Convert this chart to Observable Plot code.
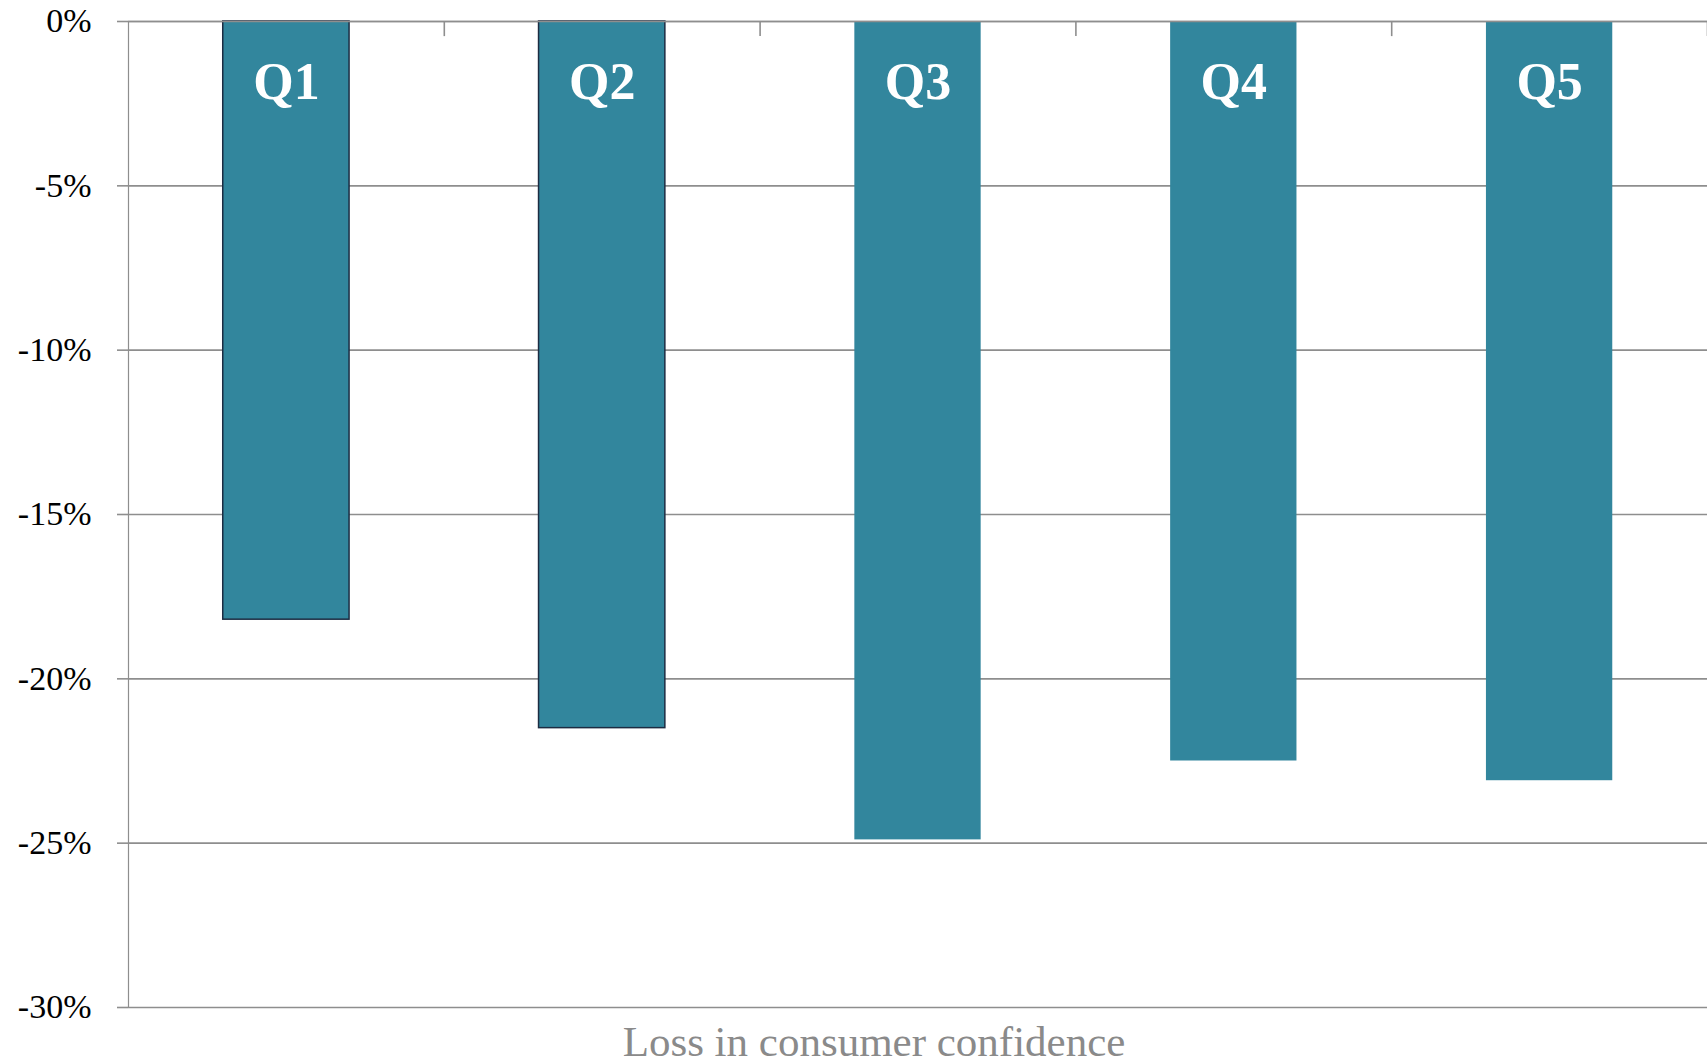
<!DOCTYPE html>
<html>
<head>
<meta charset="utf-8">
<script src="https://cdn.jsdelivr.net/npm/d3@7"></script>
<script src="https://cdn.jsdelivr.net/npm/@observablehq/plot@0.6"></script>
<style>
  html, body { margin: 0; padding: 0; background: #fff; overflow: hidden; }
  #chart svg { display: block; }
  #xlabel {
    width: 1748px; text-align: center; margin-top: -8px;
    font-family: "Liberation Serif", "Times New Roman", serif;
    font-size: 43px; line-height: 40px; color: #8a8a8a;
  }
</style>
</head>
<body>
<div id="chart"></div>
<div id="xlabel">Loss in consumer confidence</div>
<script>
const categories = ["Q1", "Q2", "Q3", "Q4", "Q5"];
const values = [-18.2, -21.5, -24.9, -22.5, -23.1];
const outlined = [true, true, false, false, false];
const yTicks = [0, -5, -10, -15, -20, -25, -30];
const boundaryTicks = [1, 2, 3, 4, 5];

const data = categories.map((c, i) => ({category: c, index: i, value: values[i], outlined: outlined[i]}));

const barColor = "#32869d";
const gridColor = "#8e8e8e";
const serif = "Liberation Serif, Times New Roman, serif";

const chart = Plot.plot({
  width: 1707,
  height: 1030,
  marginTop: 21,
  marginBottom: 23,
  marginLeft: 128,
  marginRight: 0,
  x: {domain: [0, 5], axis: null},
  y: {domain: [-30, 0], axis: null},
  style: {fontFamily: serif, background: "white"},
  marks: [
    Plot.gridY(yTicks, {stroke: gridColor, strokeOpacity: 1, strokeWidth: 1.6}),
    Plot.axisY(yTicks, {
      anchor: "left",
      tickSize: 11,
      tickPadding: 26,
      stroke: gridColor,
      strokeWidth: 1.6,
      fill: "black",
      fontSize: 34,
      fontFamily: serif,
      tickFormat: d => `${d}%`,
      label: null
    }),
    Plot.ruleX([0], {y1: -30, y2: 0, stroke: gridColor, strokeWidth: 1.2}),
    Plot.ruleX(boundaryTicks, {y1: 0, y2: -0.46, stroke: gridColor, strokeWidth: 1.6}),
    Plot.rectY(data.filter(d => !d.outlined), {
      x1: d => d.index + 0.3, x2: d => d.index + 0.7, y1: 0, y2: "value",
      fill: barColor
    }),
    Plot.rectY(data.filter(d => d.outlined), {
      x1: d => d.index + 0.3, x2: d => d.index + 0.7, y1: 0, y2: "value",
      fill: barColor, stroke: "#1c2c42", strokeWidth: 1.5
    }),
    Plot.ruleY([0], {stroke: gridColor, strokeWidth: 1.6}),
    Plot.text(data, {
      x: d => d.index + 0.5, y: 0, dy: 61,
      text: "category", fill: "white", fontSize: 52, fontWeight: "bold",
      fontFamily: serif
    })
  ]
});
document.getElementById("chart").appendChild(chart);
</script>
</body>
</html>
